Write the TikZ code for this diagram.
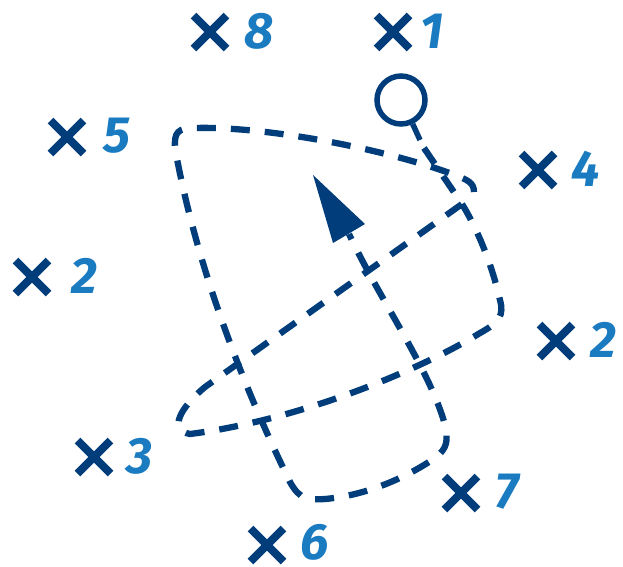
\documentclass[tikz,border=0pt]{standalone}
\usepackage{fontspec}
\setmainfont{Fira Sans}
\usetikzlibrary{shapes.misc}
\definecolor{dkb}{HTML}{003D7A}
\definecolor{ltb}{HTML}{1A7BC0}
\begin{document}
\begin{tikzpicture}[x=1pt,y=-1pt,
  xmark/.style={cross out, draw=dkb, line width=8pt, minimum size=25pt, inner sep=0pt},
  lbl/.style={text=ltb, inner sep=0pt, font=\fontsize{51}{51}\selectfont\bfseries\itshape},
  route/.style={draw=dkb, line width=6.3pt, dash pattern=on 19pt off 15pt},
  pinstyle/.style={circle, draw=dkb, line width=5.5pt, minimum size=48pt, inner sep=0pt}]
\useasboundingbox (0,0) rectangle (623,566);
% landmarks
\node[xmark] (x8) at (210,32) {};  \node[lbl] (l8) at (259,31) {8};
\node[xmark] (x1) at (393,32) {};  \node[lbl] (l1) at (432,31) {1};
\node[xmark] (x5) at (67,137) {};  \node[lbl] (l5) at (117,136) {5};
\node[xmark] (x4) at (538,170) {}; \node[lbl] (l4) at (586,169) {4};
\node[xmark] (x2a) at (32,277) {}; \node[lbl] (l2a) at (84,276) {2};
\node[xmark] (x2b) at (556,341) {};\node[lbl] (l2b) at (603,340) {2};
\node[xmark] (x3) at (94,457) {};  \node[lbl] (l3) at (140,456) {3};
\node[xmark] (x7) at (461,493) {}; \node[lbl] (l7) at (507,492) {7};
\node[xmark] (x6) at (267,545) {}; \node[lbl] (l6) at (315,542) {6};
% start pin
\node[pinstyle] (pin) at (401,100) {};
\coordinate (h) at (420,140);
\draw[dkb, line width=5.5pt] (pin.-64.6) -- (h);
% path B (closed loop from pin)
\coordinate (j) at (462,204);
\path[route] (424,148) -- (j) -- (205,387)
  .. controls (180,408) and (168,430) .. (190,434)
  .. controls (300,420) and (420,370) .. (480,333)
  .. controls (500,322) and (504,315) .. (500,300)
  .. controls (492,265) and (478,230) .. (j);
% path A (ends at the heading triangle)
\coordinate (robot) at (349,234);
\path[route] (474,192) .. controls (474,183) and (468,180) .. (455,175)
  .. controls (380,147) and (260,126) .. (195,128)
  .. controls (178,128) and (174,132) .. (175,148)
  .. controls (195,260) and (240,380) .. (290,482)
  .. controls (300,500) and (308,500) .. (325,499)
  .. controls (370,495) and (410,475) .. (435,458)
  .. controls (448,448) and (448,440) .. (445,425)
  .. controls (430,370) and (380,300) .. (robot);
\fill[dkb] (313,175) -- (365,224) -- (333,243) -- cycle;
\end{tikzpicture}
\end{document}
